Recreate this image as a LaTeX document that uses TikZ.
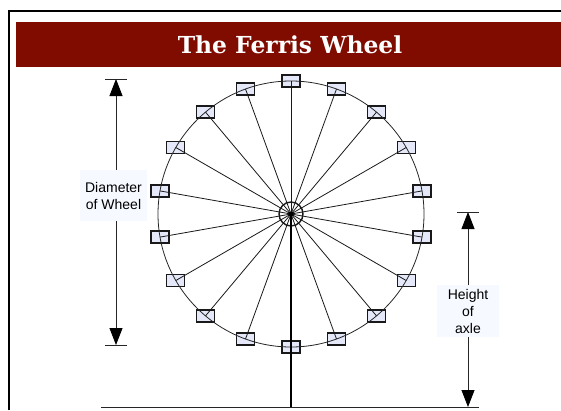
\documentclass[tikz,border=0pt]{standalone}
\usepackage{fontspec}
\setmainfont{Liberation Sans}
\newfontfamily\titlefont{DejaVu Serif}
\usetikzlibrary{arrows.meta,calc}
\definecolor{bandred}{HTML}{800C00}
\definecolor{carblue}{HTML}{E4E8F8}
\definecolor{labelblue}{HTML}{F6F9FF}
\tikzset{
    car/.style={draw=black!90, line width=1.3pt, fill=carblue, minimum width=18pt, minimum height=12pt, inner sep=0pt},
    spoke/.style={line width=0.8pt, black!90},
    dimline/.style={line width=0.8pt, black!85, -{Triangle[width=13pt,length=17pt,black]}},
    dimtick/.style={line width=0.8pt, black!85},
    dimlabel/.style={fill=labelblue, align=center, inner sep=0pt, font=\fontsize{14}{17}\selectfont}
}
\begin{document}
\begin{tikzpicture}[x=1pt, y=-1pt]
    \useasboundingbox (0,0) rectangle (561,410);
    % frame and title
    \draw[line width=2pt] (561,11) -- (8.5,11) -- (8.5,410);
    \fill[bandred] (16,22) rectangle (561,67);
    \node[white, font=\titlefont\bfseries\fontsize{23.4}{28}\selectfont] (title) at (290,45) {The Ferris Wheel};

    % cars
    \coordinate (axle) at (291,214);
    \foreach \i in {0,...,17}
        \node[car] (car\i) at ($(axle)+({90+20*\i}:133pt)$) {};

    % wheel
    \node[circle, draw=black!85, line width=0.8pt, minimum size=266pt, inner sep=0pt] (wheel) at (axle) {};
    \foreach \i in {0,...,17}
        \draw[spoke] (axle) -- (car\i.center);
    \node[circle, draw=black!90, line width=1.4pt, minimum size=24pt, inner sep=0pt] (hub) at (axle) {};
    \node[circle, fill=black, minimum size=5pt, inner sep=0pt] (pin) at (axle) {};

    % ground and post
    \coordinate (groundl) at (101,407);
    \coordinate (groundr) at (479,407);
    \coordinate (groundm) at (291,407);
    \draw[line width=0.9pt, black!85] (groundl) -- (groundr);
    \draw[line width=1.2pt] (axle) -- (groundm);

    % diameter
    \node[dimlabel, minimum width=67pt, minimum height=51pt] (diam) at (113.5,195.5) {Diameter\\of Wheel};
    \coordinate (diamtop) at (116,79);
    \coordinate (diambot) at (116,345);
    \draw[dimline] (diam.north -| diamtop) -- (diamtop);
    \draw[dimline] (diam.south -| diambot) -- (diambot);
    \draw[dimtick] (105,79) -- (127,79);
    \draw[dimtick] (105,345) -- (127,345);

    % height
    \node[dimlabel, minimum width=62pt, minimum height=52pt] (height) at (468,311) {Height\\of\\axle};
    \coordinate (heighttop) at (468,212);
    \coordinate (heightbot) at (468,407);
    \draw[dimline] (height.north) -- (heighttop);
    \draw[dimline] (height.south) -- (heightbot);
    \draw[dimtick] (457,212) -- (479,212);
\end{tikzpicture}
\end{document}
